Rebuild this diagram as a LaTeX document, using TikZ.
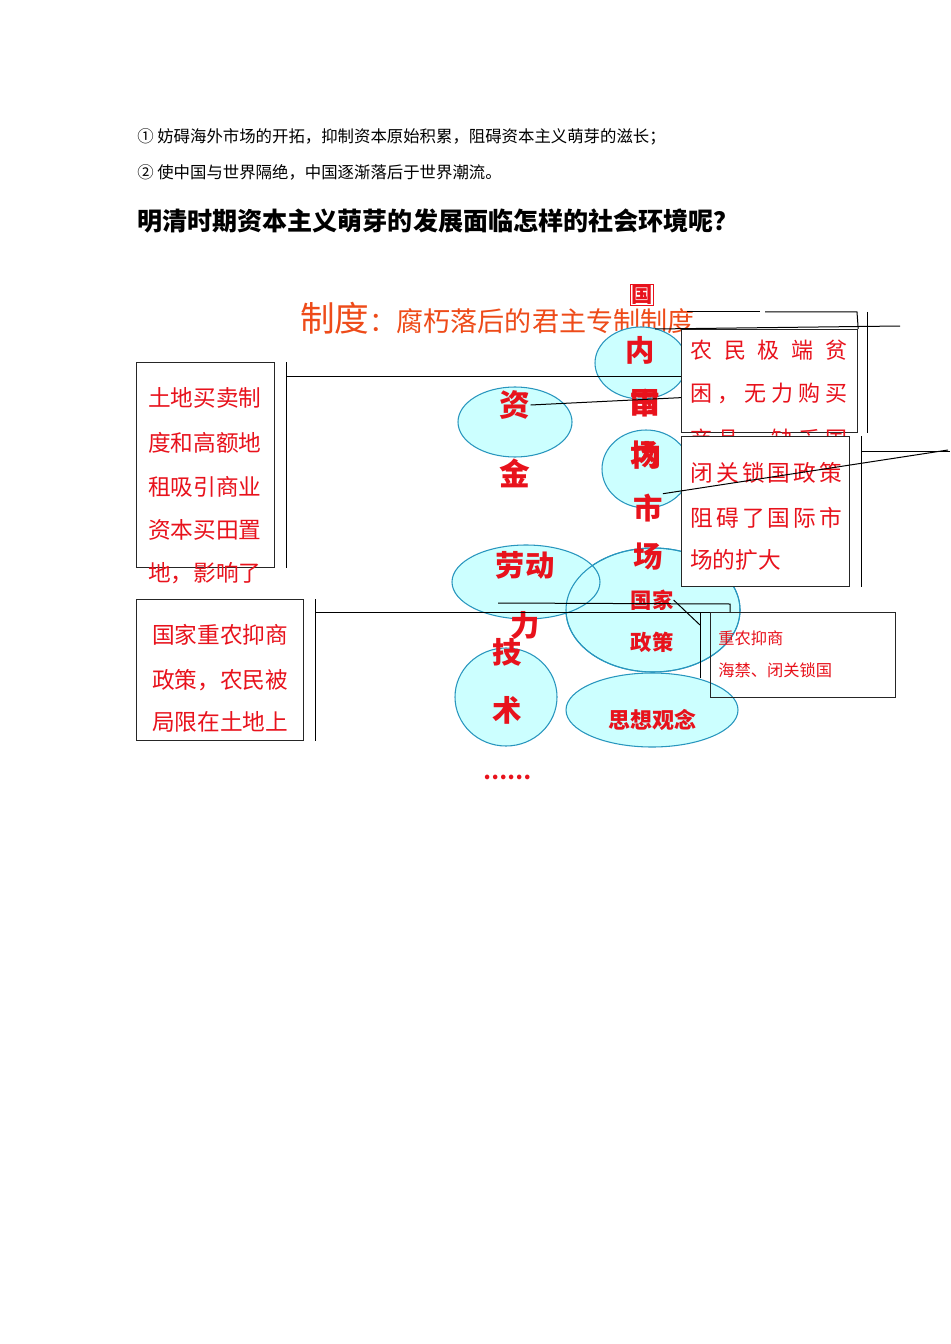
\documentclass[tikz,border=0pt]{standalone}
\usepackage{fontspec}
\setmainfont{Noto Sans CJK SC}
\usepackage{xcolor}
\usetikzlibrary{positioning, shapes.geometric}
\definecolor{textred}{RGB}{232, 18, 28}
\definecolor{titleorange}{RGB}{238, 75, 25}
\definecolor{bubblefill}{RGB}{204, 255, 255}
\definecolor{bubbleline}{RGB}{40, 150, 190}

\begin{document}
\begin{tikzpicture}[
    x=0.75pt, y=-0.75pt,
    bubble/.style={ellipse, draw=bubbleline, fill=bubblefill, line width=0.8pt, inner sep=0pt},
    notebox/.style={rectangle, draw=black!85, line width=0.9pt, inner sep=0pt, anchor=north west},
    keyword/.style={text=textred, font=\bfseries\fontsize{#1}{#1}\selectfont, inner sep=0pt},
    notetext/.style={text=textred, font=\fontsize{#1}{#1}\selectfont, inner sep=0pt, anchor=west},
    plain/.style={font=\fontsize{12.3}{12.3}\selectfont, inner sep=0pt, anchor=west},
    link/.style={draw=black, line width=0.75pt}
]

% page
\fill[white] (0,0) rectangle (950,1344);

% Text above the diagram
\node[plain] (yingxiang1) at (137,137) {① 妨碍海外市场的开拓，抑制资本原始积累，阻碍资本主义萌芽的滋长；};
\node[plain] (yingxiang2) at (137,172) {② 使中国与世界隔绝，中国逐渐落后于世界潮流。};
\node[plain, font=\bfseries\fontsize{18.8}{18.8}\selectfont] (wenti) at (137,221) {明清时期资本主义萌芽的发展面临怎样的社会环境呢？};

% Heading
\node[anchor=west, inner sep=0pt, text=titleorange, font=\fontsize{20.3}{20.3}\selectfont] (zhidu) at (300,318) {{\fontsize{26}{26}\selectfont 制度}：腐朽落后的君主专制制度};

% Bubbles
\node[bubble, minimum width=85.5pt, minimum height=52.5pt] (zijin) at (515,422) {};
\node[bubble, minimum width=69pt, minimum height=54pt] (guonei) at (641,363) {};
\node[bubble, minimum width=66pt, minimum height=58.5pt] (shichang) at (646,469) {};
\node[bubble, minimum width=130.5pt, minimum height=93pt] (zhengce) at (653,610) {};
\node[bubble, minimum width=111pt, minimum height=55.5pt] (laodong) at (526,582) {};
\node[bubble, minimum width=76.5pt, minimum height=73.5pt] (jishu) at (506,697) {};
\node[bubble, minimum width=129pt, minimum height=55.5pt] (sixiang) at (652,710) {};
% outline of the policy bubble shows through
\draw[bubbleline, line width=0.8pt] (zhengce.center) ellipse [x radius=87, y radius=62];

% Words in the bubbles
\node[keyword=16, draw=textred, line width=1.2pt, inner sep=0.6pt, fill=white] (guo1) at (642,295) {国};
\node[keyword=22] (nei1) at (640,350) {内};
\node[keyword=22] (shi1) at (645,403) {市};
\node[keyword=22] (chang1) at (645,455) {场};
\node[keyword=22] (guo2) at (645,403) {国};
\node[keyword=22] (nei2) at (647,455) {内};
\node[keyword=22] (shi2) at (648,508) {市};
\node[keyword=22] (chang2) at (648,557) {场};
\node[keyword=23] (zi) at (515,405) {资};
\node[keyword=23] (jin) at (515,473) {金};
\node[keyword=22] (laodongzi) at (525,565) {劳动};
\node[keyword=22] (li) at (525,625) {力};
\node[keyword=22] (ji) at (507,652) {技};
\node[keyword=22] (shu) at (507,710) {术};
\node[keyword=16] (guojia) at (652,600) {国家};
\node[keyword=16] (zhengcezi) at (652,642) {政策};
\node[keyword=16.5] (sixiangzi) at (652,720) {思想观念};
\node[keyword=16] (dots) at (507,777) {……};

% Left boxes
\node[notebox, minimum width=103.5pt, minimum height=153.75pt] (tudi) at (136,362) {};
\node[notetext=17] (tudi1) at (148,398) {土地买卖制};
\node[notetext=17] (tudi2) at (148,443) {度和高额地};
\node[notetext=17] (tudi3) at (148,487) {租吸引商业};
\node[notetext=17] (tudi4) at (148,530) {资本买田置};
\node[notetext=17] (tudi5) at (148,573) {地，影响了};

\node[notebox, minimum width=125.25pt, minimum height=105.75pt] (zhongnong) at (136,599) {};
\node[notetext=17] (zhongnong1) at (152,635) {国家重农抑商};
\node[notetext=17] (zhongnong2) at (152,680) {政策，农民被};
\node[notetext=17] (zhongnong3) at (152,722) {局限在土地上};

% Right boxes
\node[notebox, fill=white, minimum width=132pt, minimum height=77.25pt] (pinkun) at (681,329) {};
\node[notetext=16.5] (pinkun1) at (690,350) {\makebox[118pt][s]{农\hfill 民\hfill 极\hfill 端\hfill 贫}};
\node[notetext=16.5] (pinkun2) at (690,393) {\makebox[118pt][s]{困\hfill ，\hfill 无\hfill 力\hfill 购\hfill 买}};
\node[notetext=16.5] (pinkun3) at (690,439) {\makebox[118pt][s]{商\hfill 品\hfill ，\hfill 缺\hfill 乏\hfill 国}};

\node[notebox, fill=white, minimum width=126pt, minimum height=112.5pt] (biguan) at (681,436) {};
\node[notetext=17] (biguan1) at (690,473) {\makebox[114pt][s]{闭\hfill 关\hfill 锁\hfill 国\hfill 政\hfill 策}};
\node[notetext=17] (biguan2) at (690,518) {\makebox[114pt][s]{阻\hfill 碍\hfill 了\hfill 国\hfill 际\hfill 市}};
\node[notetext=17] (biguan3) at (690,560) {场的扩大};

\node[notebox, minimum width=138.75pt, minimum height=63.75pt] (haijin) at (710,612) {};
\node[notetext=12.2] (haijin1) at (718,638) {重农抑商};
\node[notetext=12.2] (haijin2) at (718,670) {海禁、闭关锁国};

% Connectors
\coordinate (tudibar) at ([xshift=8.25pt, yshift=-10.5pt]tudi.north east);
\draw[link] ([xshift=8.25pt]tudi.north east) -- ([xshift=8.25pt]tudi.south east);
\draw[link] (tudibar) -- (tudibar -| pinkun.west);

\coordinate (zhongnongbar) at ([xshift=8.25pt, yshift=-9.75pt]zhongnong.north east);
\draw[link] ([xshift=8.25pt]zhongnong.north east) -- ([xshift=8.25pt]zhongnong.south east);
\draw[link] (zhongnongbar) -- (zhongnongbar -| haijin.west);

\draw[link] (zi.east) -- ([yshift=-12.4pt]pinkun.west);

\coordinate (neihead) at (655,329);
\coordinate (neitail) at (900,326);
\draw[link] (neihead) -- (neitail);
\draw[link] (687,312) -- (760,312);
\draw[link] (765,312) -- (857,312) -- (pinkun.north east);
\draw[link] ([xshift=6.75pt, yshift=12.75pt]pinkun.north east) -- ([xshift=6.75pt]pinkun.south east);

\coordinate (biguantail) at (948,450);
\coordinate (biguanbar) at ([xshift=8.25pt, yshift=-11.25pt]biguan.north east);
\draw[link] ([xshift=8.25pt]biguan.north east) -- ([xshift=8.25pt]biguan.south east);
\draw[link] (biguanbar) -- (950,451);
\draw[link] (shi2.north east) -- (biguantail);

\coordinate (laodongline) at (498,603);
\draw[link] (laodongline) -- ([xshift=15pt, yshift=6pt]haijin.north west) -- ([xshift=15pt]haijin.north west);
\draw[link] ([xshift=-7.5pt]haijin.north west) -- ([xshift=-7.5pt, yshift=-49.5pt]haijin.north west);
\draw[link] (guojia.east) -- ([xshift=-7.5pt, yshift=-9.75pt]haijin.north west);

\end{tikzpicture}
\end{document}
